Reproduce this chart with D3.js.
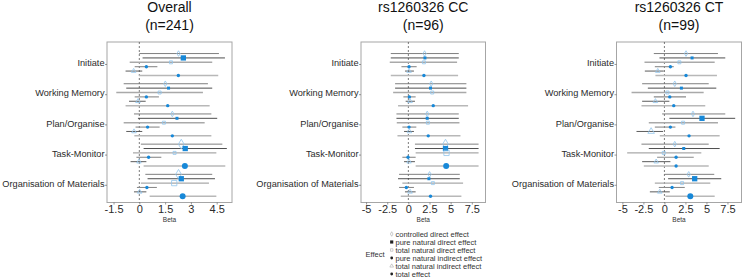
<!DOCTYPE html>
<html>
<head>
<meta charset="utf-8">
<script src="https://cdn.jsdelivr.net/npm/d3@7"></script>
<style>
  body { margin: 0; background: #fff; }
  svg { font-family: "Liberation Sans", Arial, sans-serif; }
</style>
</head>
<body>
<svg id="chart" width="744" height="279"></svg>
<script>
var outcomes = ["Initiate", "Working Memory", "Plan/Organise", "Task-Monitor", "Organisation of Materials"];
var effects = ["controlled direct effect", "pure natural direct effect", "total natural direct effect",
               "pure natural indirect effect", "total natural indirect effect", "total effect"];

// estimates, lower and upper limits, 6 effects per outcome, outcomes in order
var overallEst = [2.28, 2.56, 1.84, 0.41, -0.33, 2.27,
                  1.51, 1.70, 1.18, 0.41, -0.08, 1.65,
                  1.92, 2.19, 1.43, 0.48, -0.31, 1.92,
                  2.44, 2.67, 2.05, 0.54, -0.02, 2.65,
                  2.28, 2.44, 2.03, 0.44, 0.02, 2.52];
var overallLo = [0.00, 0.19, -0.56, -0.27, -0.80, -0.02,
                 -0.91, -0.76, -1.34, -0.27, -0.60, -0.80,
                 -0.31, -0.08, -0.91, -0.22, -0.76, -0.29,
                 0.09, 0.25, -0.37, -0.17, -0.51, 0.25,
                 0.35, 0.48, 0.09, -0.14, -0.31, 0.60];
var overallHi = [4.63, 4.98, 4.24, 1.05, 0.17, 4.59,
                 3.99, 4.24, 3.70, 1.14, 0.37, 4.09,
                 4.19, 4.53, 3.80, 1.18, 0.17, 4.19,
                 4.83, 5.09, 4.48, 1.28, 0.41, 5.00,
                 4.24, 4.40, 4.05, 1.02, 0.41, 4.48];

var ccEst = [1.92, 1.96, 1.84, 0.08, 0.08, 1.84,
             2.70, 2.62, 2.82, 0.12, 0.20, 2.94,
             2.23, 2.23, 2.31, 0.08, 0.12, 2.35,
             4.39, 4.39, 4.51, -0.04, 0.08, 4.47,
             2.51, 2.43, 2.90, -0.24, 0.20, 2.62];
var ccLo = [-2.08, -2.08, -2.20, -0.82, -0.40, -2.08,
            -1.57, -1.57, -1.80, -0.59, -0.32, -1.22,
            -1.41, -1.41, -1.37, -0.71, -0.51, -1.29,
            0.78, 0.78, 0.86, -0.71, -0.51, 0.86,
            -1.10, -1.22, -0.71, -1.10, -0.40, -0.90];
var ccHi = [5.96, 5.96, 5.76, 0.98, 0.66, 5.88,
            6.86, 6.86, 6.86, 0.86, 0.78, 7.06,
            5.96, 5.96, 6.04, 0.94, 0.66, 6.16,
            8.30, 8.30, 8.30, 0.86, 0.78, 8.30,
            6.08, 6.08, 6.47, 0.66, 0.86, 6.27];

var ctEst = [2.57, 3.29, 1.78, 0.71, -0.79, 2.57,
             1.23, 2.02, 0.36, 0.64, -1.07, 1.11,
             3.40, 4.47, 2.22, 0.71, -1.58, 2.93,
             1.23, 2.30, -0.08, 1.39, -0.98, 1.39,
             2.89, 3.60, 2.10, 0.91, -0.55, 3.08];
var ctLo = [-1.26, -0.59, -2.37, -1.14, -2.33, -1.07,
            -2.65, -1.97, -3.91, -1.26, -2.65, -2.73,
            -0.27, 0.59, -1.86, -1.14, -3.32, -0.55,
            -2.73, -1.86, -4.43, -0.87, -2.65, -2.45,
            0.00, 0.44, -1.14, -0.67, -1.73, 0.12];
var ctHi = [6.37, 7.24, 5.98, 1.11, -0.08, 6.25,
            5.27, 6.17, 4.67, 2.57, 0.59, 4.86,
            7.24, 8.42, 6.37, 1.31, -0.16, 6.57,
            5.27, 6.57, 4.39, 3.49, 0.71, 5.27,
            5.93, 6.76, 5.46, 2.42, 0.64, 5.98];

var overallTicks = [-1.5, 0, 1.5, 3, 4.5];
var genotypeTicks = [-5, -2.5, 0, 2.5, 5, 7.5];

var panels = [
  { title: "Overall", sub: "(n=241)", left: 107, right: 232, domain: [-1.88, 5.39], ticks: overallTicks,
    est: overallEst, lo: overallLo, hi: overallHi },
  { title: "rs1260326 CC", sub: "(n=96)", left: 361, right: 485.5, domain: [-5.6, 9.12], ticks: genotypeTicks,
    est: ccEst, lo: ccLo, hi: ccHi },
  { title: "rs1260326 CT", sub: "(n=99)", left: 616.5, right: 741.5, domain: [-5.7, 9.17], ticks: genotypeTicks,
    est: ctEst, lo: ctLo, hi: ctHi }
];

var plotTop = 42, plotBottom = 202.5;
var lightBlue = "#92c5ec", blue = "#1788d8";

// styling per effect
var pointFill = [null, blue, null, blue, null, blue];
var pointStroke = [lightBlue, blue, lightBlue, blue, lightBlue, blue];
var shapes = [d3.symbolDiamond, d3.symbolSquare, d3.symbolSquare, d3.symbolCircle, d3.symbolTriangle, d3.symbolCircle];
var lineColor = ["#707070", "#3a3a3a", "#a9a9a9", "#8a8a8a", "#4a4a4a", "#b8b8b8"];
var lineWidth = [0.9, 0.9, 1.4, 1.1, 0.9, 1.5];
var legendColor = ["#aaaaaa", "#222222", "#aaaaaa", "#222222", "#aaaaaa", "#222222"];

var svg = d3.select("#chart");

// group index -> vertical position, rows dodged inside a group
var y = d3.scaleLinear().domain([-0.745, 4.57]).range([plotTop, plotBottom]);
var dodge = 0.145;

// point size: larger when the 95% interval excludes zero
var size = d3.scaleLinear().domain([1.94, 1.98]).range([9, 28]).clamp(true);

panels.forEach(function (p) {
  var x = d3.scaleLinear().domain(p.domain).range([p.left, p.right]);
  var g = svg.append("g");

  g.append("text").attr("x", (p.left + p.right) / 2).attr("y", 11.7)
    .attr("text-anchor", "middle").attr("font-size", 14).attr("fill", "#111").text(p.title);
  g.append("text").attr("x", (p.left + p.right) / 2).attr("y", 29.5)
    .attr("text-anchor", "middle").attr("font-size", 14).attr("fill", "#111").text(p.sub);

  g.append("rect").attr("x", p.left).attr("y", plotTop)
    .attr("width", p.right - p.left).attr("height", plotBottom - plotTop)
    .attr("fill", "#fff").attr("stroke", "#a6a6a6").attr("stroke-width", 1);

  g.append("line").attr("x1", x(0)).attr("x2", x(0)).attr("y1", plotTop).attr("y2", plotBottom)
    .attr("stroke", "#444").attr("stroke-width", 0.7).attr("stroke-dasharray", "2,2");

  // y labels
  g.selectAll(".ylab").data(outcomes).enter().append("text")
    .attr("x", p.left - 2.5).attr("y", function (d, i) { return y(i) - 1.5; })
    .attr("dy", "0.35em").attr("text-anchor", "end")
    .attr("font-size", 9.2).attr("fill", "#2b2b2b").text(function (d) { return d; });
  g.selectAll(".ytick").data(outcomes).enter().append("line")
    .attr("x1", p.left - 2).attr("x2", p.left)
    .attr("y1", function (d, i) { return y(i); }).attr("y2", function (d, i) { return y(i); })
    .attr("stroke", "#555").attr("stroke-width", 0.6);

  // x axis
  var axis = d3.axisBottom(x).tickValues(p.ticks).tickSize(2).tickPadding(0.5)
    .tickFormat(function (d) { return d; });
  var ax = g.append("g").attr("transform", "translate(0," + plotBottom + ")").call(axis);
  ax.select(".domain").remove();
  ax.selectAll(".tick line").attr("stroke", "#555").attr("stroke-width", 0.6);
  ax.selectAll(".tick text").attr("font-size", 11).attr("fill", "#2b2b2b")
    .attr("font-family", "Liberation Sans, Arial, sans-serif");

  g.append("text").attr("x", (p.left + p.right) / 2).attr("y", 221.5)
    .attr("text-anchor", "middle").attr("font-size", 6.5).attr("fill", "#333").text("Beta");

  var rows = p.est.map(function (e, k) {
    var gi = Math.floor(k / 6), j = k % 6;
    return { est: e, lo: p.lo[k], hi: p.hi[k], j: j, pos: gi + (j - 2.5) * dodge };
  });

  g.selectAll(".ci").data(rows).enter().append("line")
    .attr("x1", function (d) { return x(d.lo); }).attr("x2", function (d) { return x(d.hi); })
    .attr("y1", function (d) { return y(d.pos); }).attr("y2", function (d) { return y(d.pos); })
    .attr("stroke", function (d) { return lineColor[d.j]; })
    .attr("stroke-width", function (d) { return lineWidth[d.j]; });

  g.selectAll(".pt").data(rows).enter().append("path")
    .attr("transform", function (d) { return "translate(" + x(d.est) + "," + y(d.pos) + ")"; })
    .attr("d", function (d) {
      var z = Math.abs(d.est) / ((d.hi - d.lo) / 3.92);
      return d3.symbol().type(shapes[d.j]).size(size(z))();
    })
    .attr("fill", function (d) { return pointFill[d.j] || "none"; })
    .attr("stroke", function (d) { return pointStroke[d.j]; })
    .attr("stroke-width", function (d) { return pointFill[d.j] ? 0 : 0.8; });
});

// legend
var lg = svg.append("g");
lg.append("text").attr("x", 365.5).attr("y", 254.3).attr("dy", "0.35em")
  .attr("font-size", 7.5).attr("fill", "#333").text("Effect");
lg.selectAll(".li").data(effects).enter().append("path")
  .attr("transform", function (d, i) { return "translate(391.7," + (234 + i * 8) + ")"; })
  .attr("d", function (d, i) { return d3.symbol().type(shapes[i]).size(i === 1 ? 10 : 6)(); })
  .attr("fill", function (d, i) { return pointFill[i] ? legendColor[i] : "none"; })
  .attr("stroke", function (d, i) { return legendColor[i]; })
  .attr("stroke-width", function (d, i) { return pointFill[i] ? 0 : 0.6; });
lg.selectAll(".lt").data(effects).enter().append("text")
  .attr("x", 395.5).attr("y", function (d, i) { return 234 + i * 8; }).attr("dy", "0.35em")
  .attr("font-size", 7.5).attr("fill", "#333").text(function (d) { return d; });
</script>
</body>
</html>
